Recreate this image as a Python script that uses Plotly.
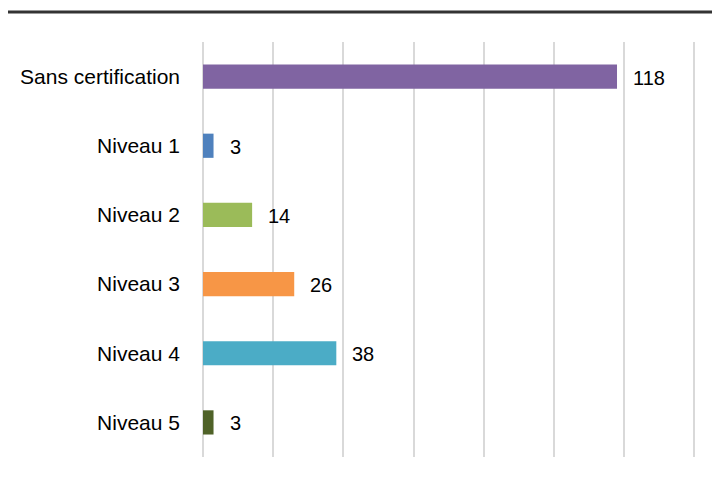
import plotly.graph_objects as go

categories = ["Sans certification", "Niveau 1", "Niveau 2", "Niveau 3", "Niveau 4", "Niveau 5"]
values = [118, 3, 14, 26, 38, 3]
colors = ["#8064A2", "#4F81BD", "#9BBB59", "#F79646", "#4BACC6", "#4F6228"]

font_family = "Liberation Sans, Arial, sans-serif"

fig = go.Figure()
fig.add_trace(go.Bar(
    y=categories, x=values, orientation="h",
    marker=dict(color=colors, line=dict(width=0)),
    width=0.35, hoverinfo="skip",
))

for c, v in zip(categories, values):
    fig.add_annotation(x=v, y=c, text=str(v), showarrow=False,
                       xanchor="left", xshift=14, yshift=-1,
                       font=dict(size=20, color="#000000", family=font_family))

fig.update_layout(
    width=712, height=472,
    margin=dict(l=195, r=23, t=34, b=23),
    plot_bgcolor="white", paper_bgcolor="white",
    showlegend=False,
    xaxis=dict(range=[0, 140.8], dtick=20, showticklabels=False,
               showgrid=True, gridcolor="#D9D9D9", gridwidth=1.5,
               zeroline=True, zerolinecolor="#D9D9D9", zerolinewidth=1.5,
               showline=False, fixedrange=True),
    yaxis=dict(autorange="reversed", showgrid=False, zeroline=False,
               showline=False, ticks="", ticklabelstandoff=22,
               tickfont=dict(size=21, color="#000000", family=font_family)),
    shapes=[dict(type="line", xref="paper", yref="paper",
                 x0=-0.5, x1=1.2, y0=1.072, y1=1.072,
                 line=dict(color="#333333", width=3))],
)

fig.write_html("out.html")
